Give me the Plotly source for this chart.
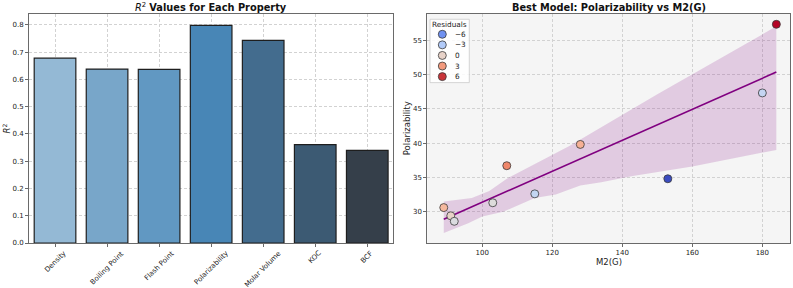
import numpy as np
import plotly.graph_objects as go

# ---------------- data ----------------
properties = ["Density", "Boiling Point", "Flash Point", "Polarizability",
              "Molar Volume", "KOC", "BCF"]
r2_values = [0.678, 0.638, 0.637, 0.798, 0.743, 0.361, 0.340]
bar_colors = ["#94b9d5", "#78a6c9", "#6198c2", "#4886b6", "#436c8e", "#3c5a73", "#353f4a"]

m2g = [89, 91, 92, 103, 107, 115, 128, 153, 180, 184]
polarizability = [30.6, 29.4, 28.6, 31.3, 36.7, 32.6, 39.8, 34.8, 47.3, 57.3]

# bootstrap confidence band edges
band_upper_x = [89, 97, 102, 107, 125, 150, 184]
band_upper_y = [31.5, 32.0, 33.0, 34.8, 39.6, 47.1, 57.0]
band_lower_x = [89, 96, 100, 106, 115, 121, 128, 134, 143, 160, 184]
band_lower_y = [26.9, 28.3, 29.3, 30.0, 32.0, 32.5, 33.8, 34.3, 35.2, 36.6, 39.0]

legend_values = [-6, -3, 0, 3, 6]

# ---------------- helpers ----------------
coolwarm_stops = [
    (0.0, (59, 76, 192)), (0.1, (90, 120, 228)), (0.2, (123, 159, 249)),
    (0.3, (158, 190, 255)), (0.4, (192, 212, 245)), (0.5, (221, 220, 220)),
    (0.6, (242, 203, 183)), (0.7, (247, 172, 142)), (0.8, (238, 132, 104)),
    (0.9, (214, 82, 68)), (1.0, (180, 4, 38)),
]
coolwarm_scale = [[s, "rgb(%d,%d,%d)" % c] for s, c in coolwarm_stops]


def coolwarm(t):
    t = min(max(t, 0.0), 1.0)
    for (s0, c0), (s1, c1) in zip(coolwarm_stops[:-1], coolwarm_stops[1:]):
        if s0 <= t <= s1:
            f = (t - s0) / (s1 - s0)
            c = [round(a + (b - a) * f) for a, b in zip(c0, c1)]
            return "rgb(%d,%d,%d)" % tuple(c)
    return "rgb(180,4,38)"


xarr = np.array(m2g, dtype=float)
yarr = np.array(polarizability, dtype=float)
slope, intercept = np.polyfit(xarr, yarr, 1)
resid = yarr - (slope * xarr + intercept)
rmin, rmax = resid.min(), resid.max()
line_x = np.array([xarr.min(), xarr.max()])
line_y = slope * line_x + intercept

FONT = "DejaVu Sans"
GRID = "#d2d2d2"
SPINE = "#6a6a6a"
TXT = "#222222"

W, H = 793, 288
ML, MR, MT, MB = 29, 3, 14, 45

fig = go.Figure()

# bars
fig.add_trace(go.Bar(
    x=list(range(len(properties))), y=r2_values,
    marker=dict(color=bar_colors, line=dict(color="#1e1e1e", width=1.2)),
    width=0.8, xaxis="x", yaxis="y", showlegend=False))

# band
fig.add_trace(go.Scatter(
    x=band_upper_x + band_lower_x[::-1], y=band_upper_y + band_lower_y[::-1],
    fill="toself", fillcolor="rgba(128,0,128,0.17)", line=dict(width=0),
    mode="lines", hoverinfo="skip", xaxis="x2", yaxis="y2", showlegend=False))

# regression line
fig.add_trace(go.Scatter(
    x=line_x, y=line_y, mode="lines", line=dict(color="#800080", width=1.6),
    xaxis="x2", yaxis="y2", showlegend=False))

# points
fig.add_trace(go.Scatter(
    x=m2g, y=polarizability, mode="markers",
    marker=dict(size=8, color=resid, colorscale=coolwarm_scale, cmin=rmin, cmax=rmax,
                line=dict(color="#3a3a3a", width=0.8)),
    xaxis="x2", yaxis="y2", showlegend=False))

L_DOM = [0.0, 0.4787]
R_DOM = [0.5234, 1.0]

axis_common = dict(showline=True, linecolor=SPINE, linewidth=1, mirror=True,
                   ticks="outside", ticklen=3, tickcolor=SPINE, automargin=False,
                   gridcolor=GRID, griddash="3px,2px", gridwidth=0.6,
                   tickfont=dict(family=FONT, size=7, color=TXT), zeroline=False)

fig.update_layout(
    width=W, height=H,
    margin=dict(l=ML, r=MR, t=MT, b=MB),
    paper_bgcolor="white", plot_bgcolor="white",
    font=dict(family=FONT, color=TXT),
    xaxis=dict(domain=L_DOM, anchor="y", range=[-0.5, 6.5],
               tickmode="array", tickvals=list(range(len(properties))),
               showticklabels=False, showgrid=True, **axis_common),
    yaxis=dict(domain=[0, 1], anchor="x", range=[0, 0.84], dtick=0.1, tickformat=".1f",
               showgrid=True, **axis_common),
    xaxis2=dict(domain=R_DOM, anchor="y2", range=[84.3, 187.9], dtick=20,
                showgrid=True, **axis_common),
    yaxis2=dict(domain=[0, 1], anchor="x2", range=[25.44, 58.8], dtick=5,
                showgrid=True, **axis_common),
)

# shaded background for the right panel
fig.add_shape(type="rect", xref="x2 domain", yref="y2 domain", x0=0, x1=1, y0=0, y1=1,
              fillcolor="#f5f5f5", line=dict(width=0), layer="below")

# rotated category labels (centered under ticks, like matplotlib rotation=45)
for i, name in enumerate(properties):
    fig.add_annotation(text=name, xref="x", yref="y domain", x=i, y=0, yshift=-3.5,
                       textangle=-45, showarrow=False, xanchor="center", yanchor="top",
                       font=dict(family=FONT, size=7, color=TXT))

# axis titles
fig.add_annotation(text="<i>R</i><sup>2</sup>", xref="paper", yref="y domain",
                   x=(6 - ML) / (W - ML - MR), y=0.5, textangle=-90, showarrow=False,
                   xanchor="center", yanchor="middle", font=dict(family=FONT, size=8.5, color=TXT))
fig.add_annotation(text="Polarizability", xref="paper", yref="y2 domain",
                   x=(406.7 - ML) / (W - ML - MR), y=0.5, textangle=-90, showarrow=False,
                   xanchor="center", yanchor="middle", font=dict(family=FONT, size=8.5, color=TXT))
fig.add_annotation(text="M2(G)", xref="x2 domain", yref="paper",
                   x=0.5, y=-(261.7 - (H - MB)) / (H - MT - MB), showarrow=False,
                   xanchor="center", yanchor="middle", font=dict(family=FONT, size=8.5, color=TXT))

# titles
fig.add_annotation(text="<i>R</i><sup>2</sup> <b>Values for Each Property</b>",
                   xref="x domain", yref="paper", x=0.5, y=1.0, yshift=7,
                   showarrow=False, font=dict(family=FONT, size=9.8, color="#111"),
                   xanchor="center", yanchor="middle")
fig.add_annotation(text="<b>Best Model: Polarizability vs M2(G)</b>",
                   xref="x2 domain", yref="paper", x=0.5, y=1.0, yshift=7,
                   showarrow=False, font=dict(family=FONT, size=9.8, color="#111"),
                   xanchor="center", yanchor="middle")

# manual legend (residual hue)
dom_w = 362.7
dom_h = 229.3
fig.add_shape(type="rect", xref="x2 domain", yref="y2 domain",
              x0=2.7 / dom_w, x1=42.0 / dom_w, y0=1 - 68.7 / dom_h, y1=1 - 5.3 / dom_h,
              fillcolor="rgba(255,255,255,0.85)", line=dict(color="#cccccc", width=0.8))
fig.add_annotation(text="Residuals", xref="x2 domain", yref="y2 domain",
                   x=22.0 / dom_w, y=1 - 10.8 / dom_h, showarrow=False,
                   font=dict(family=FONT, size=7.3, color=TXT), xanchor="center", yanchor="middle")
for i, v in enumerate(legend_values):
    yy = 1 - (20.3 + i * 10.6) / dom_h
    col = coolwarm((v - rmin) / (rmax - rmin))
    fig.add_shape(type="circle", xref="x2 domain", yref="y2 domain",
                  xsizemode="pixel", ysizemode="pixel",
                  xanchor=15.0 / dom_w, yanchor=yy, x0=-4, x1=4, y0=-4, y1=4,
                  fillcolor=col, line=dict(color="#3a3a3a", width=0.8))
    label = ("\u2212" + str(abs(v))) if v < 0 else str(v)
    fig.add_annotation(text=label, xref="x2 domain", yref="y2 domain",
                       x=25.5 / dom_w, y=yy, showarrow=False,
                       font=dict(family=FONT, size=7.3, color=TXT), xanchor="left", yanchor="middle")

fig.write_html("out.html", config={"displayModeBar": False},
               post_script="document.body.style.margin='0';document.body.style.padding='0';"
                           "document.body.style.overflow='hidden';")
